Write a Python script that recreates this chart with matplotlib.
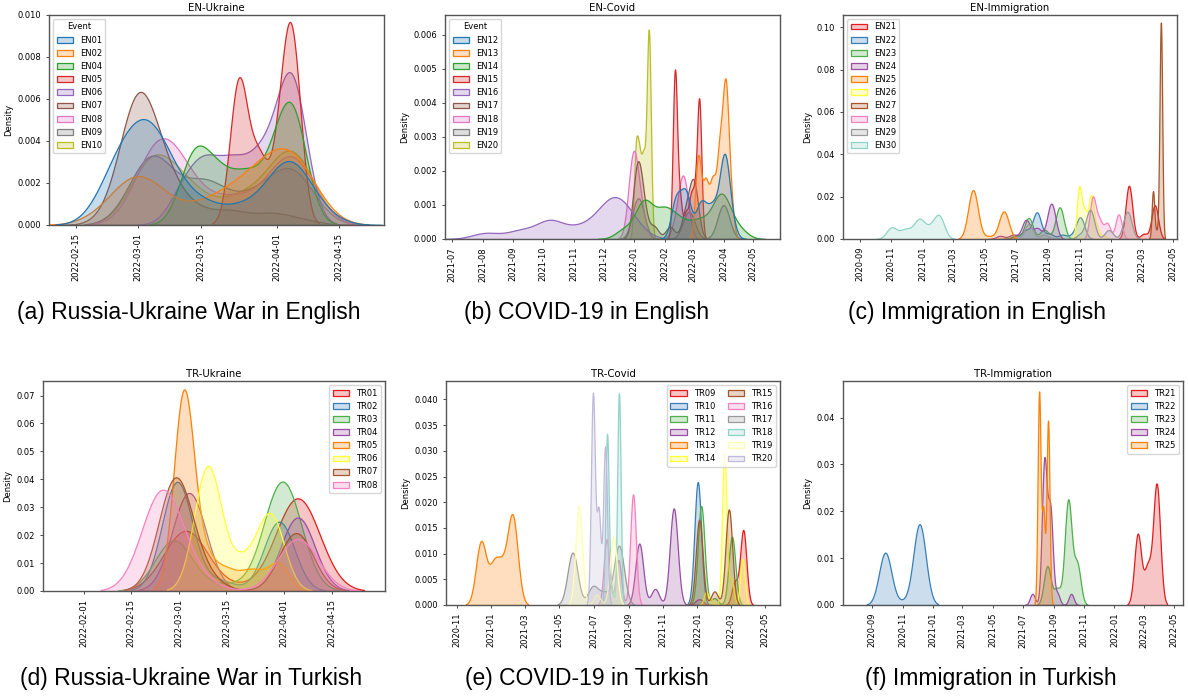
import numpy as np
import matplotlib
matplotlib.use("Agg")
import matplotlib.pyplot as plt
import matplotlib.dates as mdates
from matplotlib.colors import to_rgba
from matplotlib.patches import Patch
from matplotlib.ticker import MultipleLocator

# ---- data: each event = weighted post dates (share of posts) + kde bandwidth in days ----
en_ukr_events = ["EN01", "EN02", "EN04", "EN05", "EN06", "EN07", "EN08", "EN09", "EN10"]
en_ukr_dates = [
    ["2022-02-24", "2022-03-02", "2022-03-07", "2022-03-15", "2022-03-24", "2022-04-01", "2022-04-05", "2022-04-11"],
    ["2022-02-23", "2022-03-01", "2022-03-08", "2022-03-17", "2022-03-24", "2022-03-30", "2022-04-05"],
    ["2022-03-13 12:00", "2022-03-19", "2022-03-25", "2022-03-31", "2022-04-04 12:00"],
    ["2022-03-23 12:00", "2022-03-28", "2022-04-02", "2022-04-04 12:00"],
    ["2022-03-11", "2022-03-16", "2022-03-22", "2022-03-28", "2022-04-01", "2022-04-04 12:00"],
    ["2022-02-24", "2022-03-01", "2022-03-07", "2022-03-14", "2022-03-22", "2022-03-31", "2022-04-07"],
    ["2022-03-05", "2022-03-11", "2022-03-21", "2022-03-28", "2022-04-04 12:00"],
    ["2022-03-04", "2022-03-16", "2022-03-27", "2022-04-04 12:00"],
    ["2022-03-04", "2022-03-12", "2022-03-23", "2022-03-29", "2022-04-04 12:00"],
]
en_ukr_mass = [
    [0.024, 0.035, 0.022, 0.010, 0.008, 0.014, 0.022, 0.004],
    [0.006, 0.026, 0.006, 0.010, 0.014, 0.020, 0.034],
    [0.026, 0.016, 0.016, 0.016, 0.041],
    [0.034, 0.015, 0.0175, 0.039],
    [0.012, 0.020, 0.020, 0.020, 0.010, 0.052],
    [0.005, 0.055, 0.018, 0.006, 0.006, 0.005, 0.002],
    [0.040, 0.020, 0.012, 0.008, 0.038],
    [0.040, 0.024, 0.014, 0.030],
    [0.036, 0.018, 0.012, 0.008, 0.040],
]
en_ukr_bw = [4.5, 5.5, 3.3, 2.0, 3.3, 4.0, 5.0, 5.0, 5.0]

en_cov_events = ["EN12", "EN13", "EN14", "EN15", "EN16", "EN17", "EN18", "EN19", "EN20"]
en_cov_dates = [
    ["2022-02-12", "2022-02-22", "2022-03-08", "2022-03-14", "2022-03-22", "2022-04-02", "2022-04-09"],
    ["2022-03-06 12:00", "2022-03-14", "2022-03-21", "2022-03-28", "2022-04-03", "2022-04-08"],
    ["2021-12-22", "2022-01-11", "2022-01-31", "2022-02-15", "2022-03-02", "2022-03-12", "2022-03-30", "2022-04-16"],
    ["2022-02-11", "2022-02-16", "2022-02-22", "2022-02-27", "2022-03-03", "2022-03-07 12:00"],
    ["2021-08-04", "2021-09-08", "2021-10-08", "2021-11-07", "2021-12-02", "2021-12-17", "2022-01-01"],
    ["2022-01-04", "2022-01-10", "2022-01-21", "2022-02-06", "2022-02-22", "2022-03-02"],
    ["2021-12-31", "2022-01-08", "2022-02-12", "2022-02-19 12:00"],
    ["2022-01-05", "2022-02-25", "2022-04-01"],
    ["2022-01-02 12:00", "2022-01-06", "2022-01-10", "2022-01-13", "2022-01-15 18:00"],
]
en_cov_mass = [
    [0.014, 0.016, 0.010, 0.006, 0.010, 0.029, 0.004],
    [0.018, 0.012, 0.012, 0.018, 0.031, 0.008],
    [0.006, 0.024, 0.017, 0.010, 0.006, 0.008, 0.028, 0.006],
    [0.027, 0.006, 0.004, 0.006, 0.006, 0.022],
    [0.006, 0.008, 0.018, 0.010, 0.020, 0.026, 0.008],
    [0.022, 0.008, 0.004, 0.004, 0.008, 0.018],
    [0.030, 0.008, 0.004, 0.022],
    [0.018, 0.012, 0.015],
    [0.012, 0.010, 0.010, 0.004, 0.029],
]
en_cov_bw = [5.0, 3.0, 9.0, 2.2, 14.0, 4.5, 5.0, 6.0, 2.0]

en_imm_events = ["EN21", "EN22", "EN23", "EN24", "EN25", "EN26", "EN27", "EN28", "EN29", "EN30"]
en_imm_dates = [
    ["2022-02-04", "2022-03-05", "2022-03-26"],
    ["2021-06-30", "2021-07-20", "2021-08-10", "2021-09-03", "2021-09-28", "2021-10-18", "2021-11-02"],
    ["2021-06-30", "2021-07-25", "2021-08-24", "2021-09-23"],
    ["2021-05-31", "2021-06-25", "2021-07-20", "2021-08-11", "2021-09-07"],
    ["2021-04-08 12:00", "2021-05-09", "2021-06-07"],
    ["2021-10-31", "2021-11-11", "2021-11-23", "2021-12-04", "2021-12-17"],
    ["2022-03-22 12:00", "2022-03-28", "2022-04-04", "2022-04-07"],
    ["2021-11-26", "2021-12-09", "2021-12-24", "2022-01-15"],
    ["2021-07-25", "2021-08-24", "2021-11-02", "2021-11-21", "2021-12-27", "2022-02-01"],
    ["2020-11-02", "2020-11-27", "2020-12-14", "2020-12-27", "2021-01-16", "2021-02-02"],
]
en_imm_mass = [
    [0.41, 0.04, 0.26],
    [0.03, 0.08, 0.25, 0.05, 0.04, 0.03, 0.20],
    [0.03, 0.20, 0.09, 0.30],
    [0.03, 0.04, 0.18, 0.10, 0.335],
    [0.55, 0.03, 0.31],
    [0.29, 0.14, 0.24, 0.06, 0.02],
    [0.14, 0.02, 0.08, 0.60],
    [0.29, 0.12, 0.11, 0.175],
    [0.14, 0.04, 0.04, 0.275, 0.085, 0.26],
    [0.135, 0.10, 0.06, 0.20, 0.10, 0.26],
]
en_imm_bw = [6.5, 8.0, 8.0, 8.0, 9.5, 4.8, 2.5, 6.0, 8.0, 10.0]

tr_ukr_events = ["TR01", "TR02", "TR03", "TR04", "TR05", "TR06", "TR07", "TR08"]
tr_ukr_dates = [
    ["2022-03-03", "2022-03-19", "2022-04-05"],
    ["2022-02-28 12:00", "2022-03-13", "2022-03-30 12:00"],
    ["2022-02-27 12:00", "2022-03-15", "2022-03-31 12:00"],
    ["2022-03-04", "2022-04-05"],
    ["2022-03-02 12:00", "2022-03-09", "2022-03-15", "2022-03-21", "2022-03-25", "2022-03-30 12:00"],
    ["2022-03-09 12:00", "2022-03-19 12:00", "2022-03-28"],
    ["2022-02-28", "2022-03-09", "2022-04-04 12:00"],
    ["2022-02-24", "2022-03-06", "2022-04-05"],
]
tr_ukr_mass = [
    [0.35, 0.02, 0.54],
    [0.44, 0.04, 0.28],
    [0.25, 0.03, 0.54],
    [0.44, 0.33],
    [0.535, 0.08, 0.05, 0.04, 0.03, 0.07],
    [0.445, 0.095, 0.27],
    [0.50, 0.05, 0.26],
    [0.53, 0.06, 0.28],
]
tr_ukr_bw = [6.5, 4.5, 5.5, 5.0, 3.0, 4.0, 5.0, 6.0]

tr_cov_events = ["TR09", "TR10", "TR11", "TR12", "TR13", "TR14", "TR15", "TR16", "TR17", "TR18", "TR19", "TR20"]
tr_cov_dates = [
    ["2022-03-08", "2022-03-23"],
    ["2022-01-01 12:00"],
    ["2022-01-07 12:00", "2022-01-31", "2022-03-03"],
    ["2021-09-20", "2021-10-18", "2021-11-20", "2022-01-04"],
    ["2020-12-14", "2021-01-06", "2021-01-21", "2021-02-08"],
    ["2022-01-16", "2022-01-26", "2022-02-17 12:00", "2022-03-02", "2022-03-21 12:00"],
    ["2022-01-04", "2022-01-31", "2022-02-25 12:00"],
    ["2021-07-24", "2021-08-14", "2021-09-09"],
    ["2021-05-25", "2021-06-30", "2021-07-20", "2021-08-15"],
    ["2021-07-25", "2021-08-02", "2021-08-15"],
    ["2021-06-05", "2021-07-07", "2021-08-05"],
    ["2021-06-30", "2021-07-10", "2021-07-21 12:00"],
]
tr_cov_mass = [
    [0.06, 0.20],
    [0.36],
    [0.29, 0.02, 0.20],
    [0.21, 0.055, 0.33, 0.02],
    [0.275, 0.16, 0.13, 0.38],
    [0.025, 0.01, 0.295, 0.05, 0.09],
    [0.25, 0.04, 0.28],
    [0.16, 0.11, 0.27],
    [0.23, 0.08, 0.05, 0.26],
    [0.25, 0.02, 0.31],
    [0.29, 0.03, 0.20],
    [0.36, 0.16, 0.27],
]
tr_cov_bw = [5.5, 6.0, 6.0, 7.0, 9.0, 4.0, 6.0, 5.0, 9.0, 3.0, 6.0, 3.5]

tr_imm_events = ["TR21", "TR22", "TR23", "TR24", "TR25"]
tr_imm_dates = [
    ["2022-02-17", "2022-03-09", "2022-03-27"],
    ["2020-09-27", "2020-11-02", "2020-12-05"],
    ["2021-08-19", "2021-09-08", "2021-09-30", "2021-10-18"],
    ["2021-07-20", "2021-08-13", "2021-08-25", "2021-09-08", "2021-10-06"],
    ["2021-08-02 12:00", "2021-08-11", "2021-08-20 12:00"],
]
tr_imm_mass = [
    [0.265, 0.14, 0.45],
    [0.35, 0.02, 0.54],
    [0.145, 0.06, 0.39, 0.15],
    [0.03, 0.38, 0.25, 0.03, 0.03],
    [0.34, 0.15, 0.295],
]
tr_imm_bw = [7.0, 12.5, 7.0, 5.0, 3.0]

captions = [
    "(a) Russia-Ukraine War in English", "(b) COVID-19 in English", "(c) Immigration in English",
    "(d) Russia-Ukraine War in Turkish", "(e) COVID-19 in Turkish", "(f) Immigration in Turkish",
]

tab10 = list(plt.get_cmap("tab10").colors)
set13 = list(plt.get_cmap("Set1").colors) + list(plt.get_cmap("Set3").colors)


def density(dates, mass, bw):
    # gaussian kde of the weighted dates (density per day)
    centers = mdates.datestr2num(dates)
    grid = np.linspace(centers.min() - 3 * bw, centers.max() + 3 * bw, 400)
    dens = np.zeros_like(grid)
    for c, m in zip(centers, mass):
        dens += m * np.exp(-0.5 * ((grid - c) / bw) ** 2) / (bw * np.sqrt(2 * np.pi))
    return grid, dens


panels = [
    dict(title="EN-Ukraine", ev=en_ukr_events, d=en_ukr_dates, m=en_ukr_mass, bw=en_ukr_bw, pal=tab10,
         rev=True, box=(49, 15, 384, 225), xlim=("2022-02-09", "2022-04-25"), ylim=0.0100, ystep=0.002,
         loc=mdates.DayLocator(bymonthday=[1, 15]), fmt="%Y-%m-%d", leg="upper left", ltitle="Event", ncol=1,
         cap=(189, 312)),
    dict(title="EN-Covid", ev=en_cov_events, d=en_cov_dates, m=en_cov_mass, bw=en_cov_bw, pal=tab10,
         rev=True, box=(445, 15, 780, 239), xlim=("2021-06-24", "2022-05-28"), ylim=0.00658, ystep=0.001,
         loc=mdates.MonthLocator(), fmt="%Y-%m", leg="upper left", ltitle="Event", ncol=1, cap=(587, 312)),
    dict(title="EN-Immigration", ev=en_imm_events, d=en_imm_dates, m=en_imm_mass, bw=en_imm_bw, pal=set13,
         rev=False, box=(843, 15, 1177, 239), xlim=("2020-07-31", "2022-05-08"), ylim=0.1058, ystep=0.02,
         loc=mdates.MonthLocator(bymonth=[1, 3, 5, 7, 9, 11]), fmt="%Y-%m", leg="upper left", ltitle=None,
         ncol=1, cap=(977, 312)),
    dict(title="TR-Ukraine", ev=tr_ukr_events, d=tr_ukr_dates, m=tr_ukr_mass, bw=tr_ukr_bw, pal=set13,
         rev=False, box=(43, 381, 385, 591), xlim=("2022-01-20", "2022-04-30 16:00"), ylim=0.0752, ystep=0.01,
         loc=mdates.DayLocator(bymonthday=[1, 15]), fmt="%Y-%m-%d", leg="upper right", ltitle=None, ncol=1,
         cap=(191, 679)),
    dict(title="TR-Covid", ev=tr_cov_events, d=tr_cov_dates, m=tr_cov_mass, bw=tr_cov_bw, pal=set13,
         rev=False, box=(446, 381, 780, 605), xlim=("2020-10-13", "2022-05-27"), ylim=0.0436, ystep=0.005,
         loc=mdates.MonthLocator(bymonth=[1, 3, 5, 7, 9, 11]), fmt="%Y-%m", leg="upper right", ltitle=None,
         ncol=2, cap=(587, 679)),
    dict(title="TR-Immigration", ev=tr_imm_events, d=tr_imm_dates, m=tr_imm_mass, bw=tr_imm_bw, pal=set13,
         rev=False, box=(843, 381, 1183, 605), xlim=("2020-07-04", "2022-05-19"), ylim=0.0478, ystep=0.01,
         loc=mdates.MonthLocator(bymonth=[1, 3, 5, 7, 9, 11]), fmt="%Y-%m", leg="upper right", ltitle=None,
         ncol=1, cap=(991, 679)),
]

W, H = 1188, 698
fig = plt.figure(figsize=(W / 100, H / 100), dpi=100)

for p, cap in zip(panels, captions):
    l, t, r, b = p["box"]
    ax = fig.add_axes([l / W, 1 - b / H, (r - l) / W, (b - t) / H])
    n = len(p["ev"])
    order = range(n - 1, -1, -1) if p["rev"] else range(n)
    for i in order:
        x, y = density(p["d"][i], p["m"][i], p["bw"][i])
        c = p["pal"][i]
        ax.fill_between(x, y, facecolor=to_rgba(c, 0.25), edgecolor=c, linewidth=0.9)

    ax.set_xlim(mdates.datestr2num(p["xlim"][0]), mdates.datestr2num(p["xlim"][1]))
    ax.set_ylim(0, p["ylim"])
    ax.xaxis.set_major_locator(p["loc"])
    ax.xaxis.set_major_formatter(mdates.DateFormatter(p["fmt"]))
    ax.yaxis.set_major_locator(MultipleLocator(p["ystep"]))
    ax.tick_params(axis="both", labelsize=6, length=2.2, width=0.5)
    ax.tick_params(axis="x", labelrotation=90)
    ax.set_ylabel("Density", fontsize=6, labelpad=3)
    ax.set_title(p["title"], fontsize=7.3, pad=3)
    for s in ax.spines.values():
        s.set_linewidth(1.0)
        s.set_color("#555555")

    handles = [Patch(facecolor=to_rgba(c, 0.25), edgecolor=c, linewidth=0.9, label=e)
               for e, c in zip(p["ev"], p["pal"])]
    ax.legend(handles=handles, loc=p["leg"], title=p["ltitle"], ncol=p["ncol"], fontsize=6,
              title_fontsize=6, columnspacing=1.5)

    fig.text(p["cap"][0] / W, 1 - p["cap"][1] / H, cap, ha="center", va="center",
             fontsize=16.5, family="Liberation Sans")

fig.savefig("out.png", dpi=100)
